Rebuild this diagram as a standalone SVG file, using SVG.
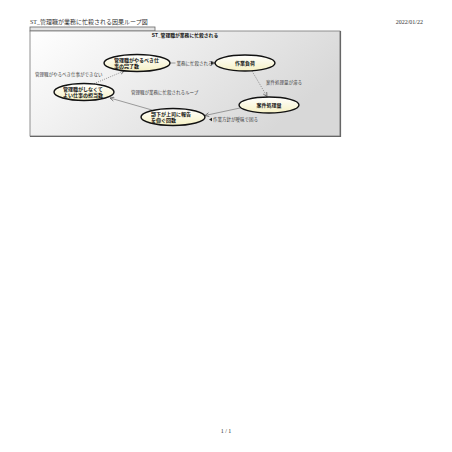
<svg xmlns="http://www.w3.org/2000/svg" width="452" height="452" viewBox="0 0 452 452">
<style>
.page{font-family:"Liberation Serif","Noto Sans CJK JP",serif;font-size:6px;fill:#333}
.hdr{font-family:"Liberation Sans","Noto Sans CJK JP",sans-serif;font-size:4.8px;font-weight:bold;fill:#111}
.node ellipse{fill:url(#ng);stroke:#111;stroke-width:1.4}
.node text{font-family:"Liberation Sans","Noto Sans CJK JP",sans-serif;font-size:5px;font-weight:bold;fill:#111}
.lbl{font-family:"Liberation Sans","Noto Sans CJK JP",sans-serif;font-size:4.5px;fill:#444}
.solid{stroke:#777;stroke-width:0.7;fill:none}
.dot{stroke:#777;stroke-width:0.8;fill:none;stroke-dasharray:1 1.2}
</style>
<defs>
<linearGradient id="fg" x1="0" y1="0" x2="1" y2="0.4">
<stop offset="0" stop-color="#ffffff"/>
<stop offset="1" stop-color="#d8d8d8"/>
</linearGradient>
<linearGradient id="ng" x1="0" y1="0" x2="0" y2="1">
<stop offset="0" stop-color="#ffffff"/>
<stop offset="1" stop-color="#f6f1c4"/>
</linearGradient>
<marker id="ah" viewBox="0 0 10 10" refX="9" refY="5" markerWidth="5" markerHeight="5" orient="auto" markerUnits="userSpaceOnUse">
<path d="M1,1 L9,5 L1,9" fill="none" stroke="#555" stroke-width="1.4"/>
</marker>
</defs>
<rect width="452" height="452" fill="#ffffff"/>
<text class="page" x="30" y="23.5">ST_管理職が業務に忙殺される因果ループ図</text>
<text class="page" x="423" y="23.5" text-anchor="end">2022/01/22</text>
<text class="page" x="226" y="433" text-anchor="middle">1 / 1</text>
<g id="frame">
<rect x="30" y="27" width="125" height="4" fill="#e4e4e4" stroke="#666" stroke-width="0.8"/>
<rect x="30" y="31" width="310" height="105" fill="url(#fg)" stroke="#777" stroke-width="0.8"/>
<path d="M340.5,31 V136.5 H30" fill="none" stroke="#666" stroke-width="1.2"/>
<text class="hdr" x="185" y="37" text-anchor="middle">ST_管理職が業務に忙殺される</text>
</g>
<g id="connectors">
<line class="solid" x1="170" y1="63" x2="175.5" y2="63"/>
<line class="solid" x1="211" y1="63" x2="215" y2="63" marker-end="url(#ah)"/>
<text class="lbl" x="176.5" y="64.7">業務に忙殺される</text>
<polygon points="211,61.3 214,63 211,64.7" fill="#222"/>
<line class="dot" x1="252" y1="71" x2="267" y2="96.5" marker-end="url(#ah)"/>
<text class="lbl" x="266" y="84">案件処理量が滞る</text>
<line class="solid" x1="240" y1="108" x2="205" y2="115.5" marker-end="url(#ah)"/>
<polygon points="212,117.8 209,119.5 212,121.2" fill="#222"/>
<text class="lbl" x="213" y="121">作業方針が曖昧で困る</text>
<line class="solid" x1="152" y1="110" x2="110" y2="98" marker-end="url(#ah)"/>
<line class="dot" x1="92" y1="84.5" x2="124" y2="71" marker-end="url(#ah)"/>
<text class="lbl" x="35" y="75.5">管理職がやるべき仕事ができない</text>
<text class="lbl" x="131" y="94">管理職が業務に忙殺されるループ</text>
</g>
<g id="n1" class="node">
<ellipse cx="137" cy="63" rx="33" ry="8.5"/>
<text x="114" y="61.5">管理職がやるべき仕</text>
<text x="114" y="67.5">事の完了数</text>
</g>
<g id="n2" class="node">
<ellipse cx="245" cy="63" rx="30" ry="8"/>
<text x="245" y="64.8" text-anchor="middle">作業負荷</text>
</g>
<g id="n3" class="node">
<ellipse cx="269" cy="105" rx="30" ry="8"/>
<text x="269" y="106.8" text-anchor="middle">案件処理量</text>
</g>
<g id="n4" class="node">
<ellipse cx="173" cy="117" rx="32" ry="8.5"/>
<text x="151" y="115.5">部下が上司に報告</text>
<text x="151" y="121.5">を仰ぐ回数</text>
</g>
<g id="n5" class="node">
<ellipse cx="84" cy="92" rx="30" ry="8.5"/>
<text x="63" y="90.5">管理職がしなくて</text>
<text x="63" y="96.5">よい仕事の担当数</text>
</g>
</svg>
